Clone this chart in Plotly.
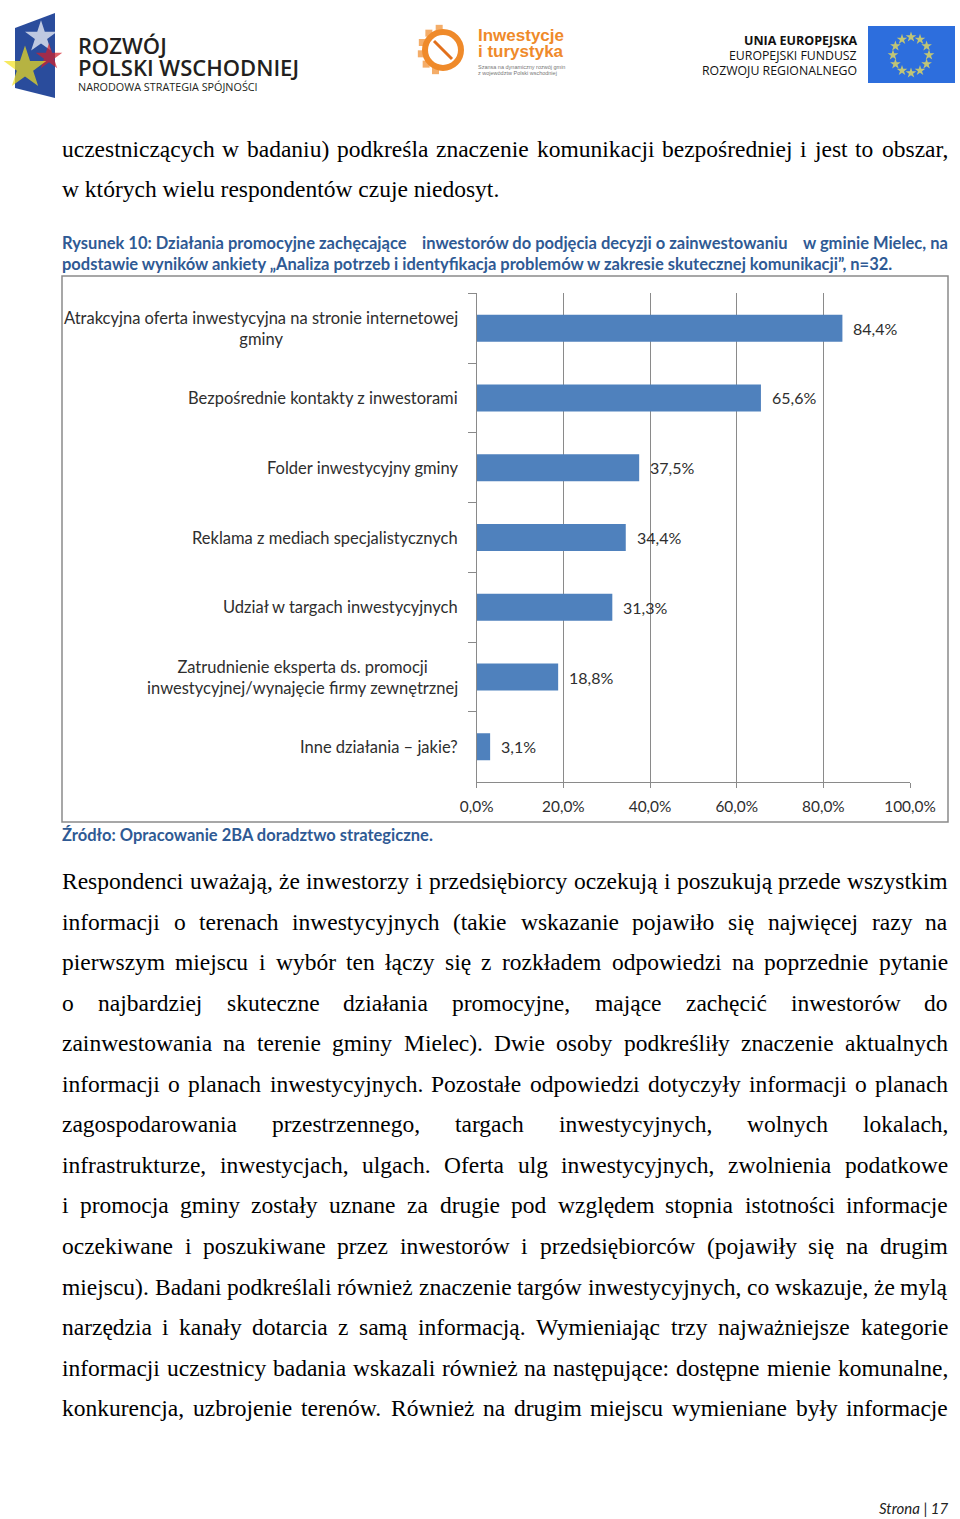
import math
import plotly.graph_objects as go

# ---------------- chart data ----------------
categories = [
    "Atrakcyjna oferta inwestycyjna na stronie internetowej<br>gminy",
    "Bezpośrednie kontakty z inwestorami",
    "Folder inwestycyjny gminy",
    "Reklama z mediach specjalistycznych",
    "Udział w targach inwestycyjnych",
    "Zatrudnienie eksperta ds. promocji<br>inwestycyjnej/wynajęcie firmy zewnętrznej",
    "Inne działania – jakie?",
]
values = [0.844, 0.656, 0.375, 0.344, 0.313, 0.188, 0.031]
x_ticks = [0.0, 0.2, 0.4, 0.6, 0.8, 1.0]

# ---------------- page text ----------------
top_lines = [
    "uczestniczących w badaniu) podkreśla znaczenie komunikacji bezpośredniej i jest to obszar,",
]
top_last = "w których wielu respondentów czuje niedosyt."
caption_line1_parts = [
    "Rysunek 10: Działania promocyjne zachęcające",
    "inwestorów do podjęcia decyzji o zainwestowaniu",
    "w gminie Mielec, na",
]
caption_line2 = ("podstawie wyników ankiety „Analiza potrzeb i identyfikacja problemów w zakresie "
                 "skutecznej komunikacji”, n=32.")
source_text = "Źródło: Opracowanie 2BA doradztwo strategiczne."
body_lines = [
    "Respondenci uważają, że inwestorzy i przedsiębiorcy oczekują i poszukują przede wszystkim",
    "informacji o terenach inwestycyjnych (takie wskazanie pojawiło się najwięcej razy na",
    "pierwszym miejscu i wybór ten łączy się z rozkładem odpowiedzi na poprzednie pytanie",
    "o najbardziej skuteczne działania promocyjne, mające zachęcić inwestorów do",
    "zainwestowania na terenie gminy Mielec). Dwie osoby podkreśliły znaczenie aktualnych",
    "informacji o planach inwestycyjnych. Pozostałe odpowiedzi dotyczyły informacji o planach",
    "zagospodarowania przestrzennego, targach inwestycyjnych, wolnych lokalach,",
    "infrastrukturze, inwestycjach, ulgach. Oferta ulg inwestycyjnych, zwolnienia podatkowe",
    "i promocja gminy zostały uznane za drugie pod względem stopnia istotności informacje",
    "oczekiwane i poszukiwane przez inwestorów i przedsiębiorców (pojawiły się na drugim",
    "miejscu). Badani podkreślali również znaczenie targów inwestycyjnych, co wskazuje, że mylą",
    "narzędzia i kanały dotarcia z samą informacją. Wymieniając trzy najważniejsze kategorie",
    "informacji uczestnicy badania wskazali również na następujące: dostępne mienie komunalne,",
    "konkurencja, uzbrojenie terenów. Również na drugim miejscu wymieniane były informacje",
]

# ---------------- page geometry (pixels) ----------------
W, H = 960, 1519
LEFT, RIGHT = 62, 948
PLOT_X0, PLOT_X1 = 476.7, 910.0
PLOT_Y0, PLOT_Y1 = 293.3, 781.7
GRAY = "#8a8a8a"
BAR = "#4F81BD"
CAP = "#2F5A94"
LABEL_FONT = "Lato"
SERIF = "Liberation Serif"
FS_BODY = 23.5
FS_LABEL = 16.5

# Times New Roman advance widths (em) - Liberation Serif is metric compatible
TW = {' ': .25, 'a': .444, 'b': .5, 'c': .444, 'd': .5, 'e': .444, 'f': .333, 'g': .5, 'h': .5,
      'i': .278, 'j': .278, 'k': .5, 'l': .278, 'm': .778, 'n': .5, 'o': .5, 'p': .5, 'q': .5,
      'r': .333, 's': .389, 't': .278, 'u': .5, 'v': .5, 'w': .722, 'x': .5, 'y': .5, 'z': .444,
      'A': .722, 'B': .667, 'C': .667, 'D': .722, 'E': .611, 'F': .556, 'G': .722, 'H': .722,
      'I': .333, 'J': .389, 'K': .722, 'L': .611, 'M': .889, 'N': .722, 'O': .722, 'P': .556,
      'Q': .722, 'R': .667, 'S': .556, 'T': .611, 'U': .722, 'V': .722, 'W': .944, 'X': .722,
      'Y': .722, 'Z': .611, ',': .25, '.': .25, ':': .278, ';': .278, '(': .333, ')': .333,
      '-': .333, '?': .444}
BASE = {'ą': 'a', 'ć': 'c', 'ę': 'e', 'ł': 'l', 'ń': 'n', 'ó': 'o', 'ś': 's', 'ź': 'z', 'ż': 'z',
        'Ą': 'A', 'Ć': 'C', 'Ę': 'E', 'Ł': 'L', 'Ń': 'N', 'Ó': 'O', 'Ś': 'S', 'Ź': 'Z', 'Ż': 'Z'}


def text_width(s, fs):
    return sum(TW.get(BASE.get(ch, ch), 0.5) for ch in s) * fs


annotations = []


def page_text(x, y, text, size, color="#000000", family=SERIF, xanchor="left", weight="normal",
              style="normal"):
    annotations.append(dict(
        x=x, y=y, xref="x2", yref="y2", text=text, showarrow=False,
        xanchor=xanchor, yanchor="middle", borderpad=0, borderwidth=0,
        font=dict(family=family, size=size, color=color, weight=weight, style=style)))


def justified(y, line, fs=FS_BODY):
    words = line.split(" ")
    widths = [text_width(w, fs) for w in words]
    gap = (RIGHT - LEFT - sum(widths)) / (len(words) - 1)
    x = LEFT
    for i, (w, wd) in enumerate(zip(words, widths)):
        if i == len(words) - 1:
            page_text(RIGHT, y, w, fs, xanchor="right")
        else:
            page_text(x, y, w, fs)
        x += wd + gap


# top paragraph
for i, ln in enumerate(top_lines):
    justified(149 + 40.5 * i, ln)
page_text(LEFT, 189, top_last, FS_BODY)

# caption (first line justified in three pieces)
page_text(LEFT, 243, caption_line1_parts[0], FS_LABEL, CAP, LABEL_FONT, weight=700)
page_text(422, 243, caption_line1_parts[1], FS_LABEL, CAP, LABEL_FONT, weight=700)
page_text(RIGHT, 243, caption_line1_parts[2], FS_LABEL, CAP, LABEL_FONT, xanchor="right", weight=700)
page_text(LEFT, 264, caption_line2, FS_LABEL, CAP, LABEL_FONT, weight=700)
page_text(LEFT, 835, source_text, FS_LABEL, CAP, LABEL_FONT, weight=700)

# body
for i, ln in enumerate(body_lines):
    justified(881 + 40.55 * i, ln)

# footer
page_text(RIGHT, 1508, "Strona | 17", 15, "#222222", LABEL_FONT, xanchor="right", style="italic")

# ---------------- logos ----------------
shapes = []
# left logo
shapes.append(dict(type="path", xref="x2", yref="y2", path="M 15 28 L 55 13 L 55 98 L 15 88 Z",
                   fillcolor="#2A4C9C", line=dict(width=0), layer="below"))
page_text(78, 45, "ROZWÓJ", 22, "#231F20", "Open Sans", weight=600)
page_text(78, 67, "POLSKI WSCHODNIEJ", 22, "#231F20", "Open Sans", weight=600)
page_text(78, 86, "NARODOWA STRATEGIA SPÓJNOŚCI", 10.8, "#231F20", "Open Sans")

# middle logo (gear + compass)
OR = "#EF8A2A"
shapes.append(dict(type="circle", xref="x2", yref="y2", x0=425, x1=461, y0=32, y1=68,
                   line=dict(color=OR, width=6), fillcolor="rgba(0,0,0,0)", layer="below"))
shapes.append(dict(type="line", xref="x2", yref="y2", x0=434, y0=41, x1=452, y1=59,
                   line=dict(color="#E2701C", width=3), layer="below"))
page_text(478, 35, "Inwestycje", 17, OR, "Liberation Sans", weight=700)
page_text(478, 51, "i turystyka", 17, OR, "Liberation Sans", weight=700)
page_text(478, 67, "Szansa na dynamiczny rozwój gmin", 5.5, "#777777", "Liberation Sans")
page_text(478, 73, "z województw Polski wschodniej", 5.5, "#777777", "Liberation Sans")

# right logo
page_text(857, 40, "UNIA EUROPEJSKA", 12.5, "#111111", "Open Sans", xanchor="right", weight=700)
page_text(857, 55, "EUROPEJSKI FUNDUSZ", 12.3, "#111111", "Open Sans", xanchor="right")
page_text(857, 70, "ROZWOJU REGIONALNEGO", 12.3, "#111111", "Open Sans", xanchor="right")
shapes.append(dict(type="rect", xref="x2", yref="y2", x0=868, x1=955, y0=26, y1=83,
                   fillcolor="#2D6EDD", line=dict(width=0), layer="below"))

# chart border
shapes.append(dict(type="rect", xref="x2", yref="y2", x0=62, x1=948, y0=276, y1=822,
                   line=dict(color=GRAY, width=1.5), fillcolor="rgba(0,0,0,0)"))

# decorative stars (logo marks)
star_x = [41, 49, 25]
star_y = [37, 57, 68]
star_c = ["#FFFFFF", "#D4202A", "#F2E01C"]
star_s = [24, 20, 32]
eu_x = [911 + 18 * math.cos(math.radians(a)) for a in range(0, 360, 30)]
eu_y = [55 + 18 * math.sin(math.radians(a)) for a in range(0, 360, 30)]
gear_x = [443 + 22 * math.cos(math.radians(a)) for a in (110, 140, 170, 200, 230, 260)]
gear_y = [50 + 22 * math.sin(math.radians(a)) for a in (110, 140, 170, 200, 230, 260)]

fig = go.Figure()

fig.add_trace(go.Bar(
    x=values, y=categories, orientation="h", marker=dict(color=BAR, line=dict(width=0)),
    hoverinfo="skip", showlegend=False))

fig.add_trace(go.Scatter(
    x=star_x + eu_x + gear_x, y=star_y + eu_y + gear_y, xaxis="x2", yaxis="y2", mode="markers",
    marker=dict(symbol=["star"] * 3 + ["star"] * 12 + ["square"] * 6,
                size=star_s + [8] * 12 + [7] * 6,
                color=star_c + ["#FFE94A"] * 12 + [OR] * 6, line=dict(width=0)),
    cliponaxis=False, hoverinfo="skip", showlegend=False))

# category labels (centered multi-line blocks, right aligned to axis)
for c in categories:
    annotations.append(dict(
        x=460 / W, xref="paper", y=c, yref="y", text=c, showarrow=False, xanchor="right",
        yanchor="middle", align="center",
        font=dict(family=LABEL_FONT, size=FS_LABEL, color="#2e2e2e")))

# data labels
for c, v in zip(categories, values):
    annotations.append(dict(
        x=v, y=c, xref="x", yref="y", text=f"{v * 100:.1f}".replace(".", ",") + "%",
        showarrow=False, xanchor="left", yanchor="middle", xshift=9,
        font=dict(family=LABEL_FONT, size=16, color="#2e2e2e")))

fig.update_layout(
    width=W, height=H, autosize=False,
    margin=dict(l=0, r=0, t=0, b=0, pad=0, autoexpand=False),
    paper_bgcolor="white", plot_bgcolor="rgba(0,0,0,0)",
    separators=", ",
    bargap=0.613,
    showlegend=False,
    xaxis=dict(domain=[PLOT_X0 / W, PLOT_X1 / W], range=[0, 1], tickvals=x_ticks,
               tickformat=".1%", showgrid=True, gridcolor=GRAY, gridwidth=1,
               showline=True, linecolor=GRAY, linewidth=1, ticks="outside", ticklen=5,
               tickcolor=GRAY, zeroline=False, ticklabelstandoff=6, automargin=False,
               tickfont=dict(family=LABEL_FONT, size=15.4, color="#2e2e2e"),
               anchor="y", fixedrange=True),
    yaxis=dict(domain=[1 - PLOT_Y1 / H, 1 - PLOT_Y0 / H], type="category",
               categoryorder="array", categoryarray=categories, autorange="reversed",
               showticklabels=False, showgrid=False, showline=True, linecolor=GRAY,
               linewidth=1, ticks="outside", ticklen=8, tickcolor=GRAY, tickson="boundaries",
               zeroline=False, anchor="x", fixedrange=True, automargin=False),
    xaxis2=dict(domain=[0, 1], range=[0, W], visible=False, anchor="y2", fixedrange=True,
                automargin=False),
    yaxis2=dict(domain=[0, 1], range=[H, 0], visible=False, anchor="x2", fixedrange=True,
                automargin=False),
    shapes=shapes,
    annotations=annotations,
)

post = ("document.body.style.margin='0';document.body.style.padding='0';"
        "document.body.style.overflow='hidden';"
        "document.documentElement.style.overflow='hidden';"
        "var gd=document.getElementById('{plot_id}');"
        "Plotly.relayout(gd,{width:960,height:1519});")

fig.write_html("out.html", config={"responsive": False, "displayModeBar": False},
               post_script=post)
